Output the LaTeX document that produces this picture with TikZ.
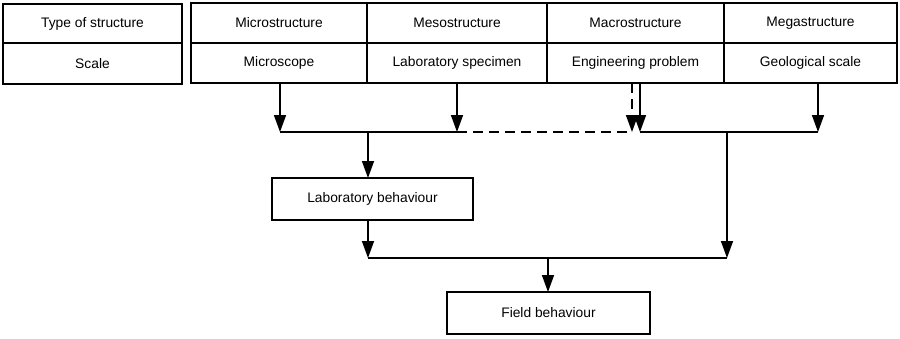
\documentclass[tikz,border=0pt]{standalone}
\usepackage{fontspec}
\setmainfont{Liberation Sans}
\usetikzlibrary{arrows.meta}
\begin{document}
\begin{tikzpicture}[x=1pt,y=-1pt,
  cell/.style={draw, line width=1.5pt, inner sep=0pt, outer sep=0pt, anchor=north west, font=\fontsize{13.8}{16}\selectfont},
  link/.style={line width=1.6pt},
  tip/.style={-{Triangle[width=12pt,length=17pt]}},
  dashlink/.style={link, dash pattern=on 10pt off 6pt}]
\useasboundingbox (0,0) rectangle (900,338);
% header table
\node[cell, minimum width=179pt, minimum height=39pt] (type) at (3,4) {Type of structure};
\node[cell, minimum width=179pt, minimum height=41pt] (scale) at (3,43) {Scale};
% structure levels and their scales
\node[cell, minimum width=176pt, minimum height=40pt] (micro) at (191,3) {Microstructure};
\node[cell, minimum width=180pt, minimum height=40pt] (meso) at (367,3) {Mesostructure};
\node[cell, minimum width=177pt, minimum height=40pt] (macro) at (547,3) {Macrostructure};
\node[cell, minimum width=173pt, minimum height=40pt] (mega) at (724,3) {Megastructure};
\node[cell, minimum width=176pt, minimum height=40pt] (microscope) at (191,43) {Microscope};
\node[cell, minimum width=180pt, minimum height=40pt] (specimen) at (367,43) {Laboratory specimen};
\node[cell, minimum width=177pt, minimum height=40pt] (engineering) at (547,43) {Engineering problem};
\node[cell, minimum width=173pt, minimum height=40pt] (geological) at (724,43) {Geological scale};
% behaviour boxes
\node[cell, minimum width=201pt, minimum height=42pt] (lab) at (272,178) {Laboratory behaviour};
\node[cell, minimum width=203pt, minimum height=42pt] (field) at (447,292) {Field behaviour};
% junction points
\coordinate (j1) at (280,132);
\coordinate (j2) at (457,132);
\coordinate (j3) at (632,132);
\coordinate (j4) at (640,132);
\coordinate (j5) at (818,132);
\coordinate (jl) at (368,132);
\coordinate (jr) at (727,132);
\coordinate (k1) at (368,258);
\coordinate (k2) at (727,258);
\coordinate (k3) at (548,258);
% arrows from the scales
\draw[link,tip] (microscope.south -| j1) -- (j1);
\draw[link,tip] (specimen.south -| j2) -- (j2);
\draw[dashlink,tip] (engineering.south -| j3) -- (j3);
\draw[link,tip] (engineering.south -| j4) -- (j4);
\draw[link,tip] (geological.south -| j5) -- (j5);
% collecting lines
\draw[link] (j1) -- (j2);
\draw[dashlink] (j2) -- (j3);
\draw[link] (j4) -- (j5);
\draw[link,tip] (jl) -- (lab.north -| jl);
\draw[link,tip] (jr) -- (k2);
\draw[link,tip] (lab.south -| k1) -- (k1);
\draw[link] (k1) -- (k2);
\draw[link,tip] (k3) -- (field.north -| k3);
\end{tikzpicture}
\end{document}
